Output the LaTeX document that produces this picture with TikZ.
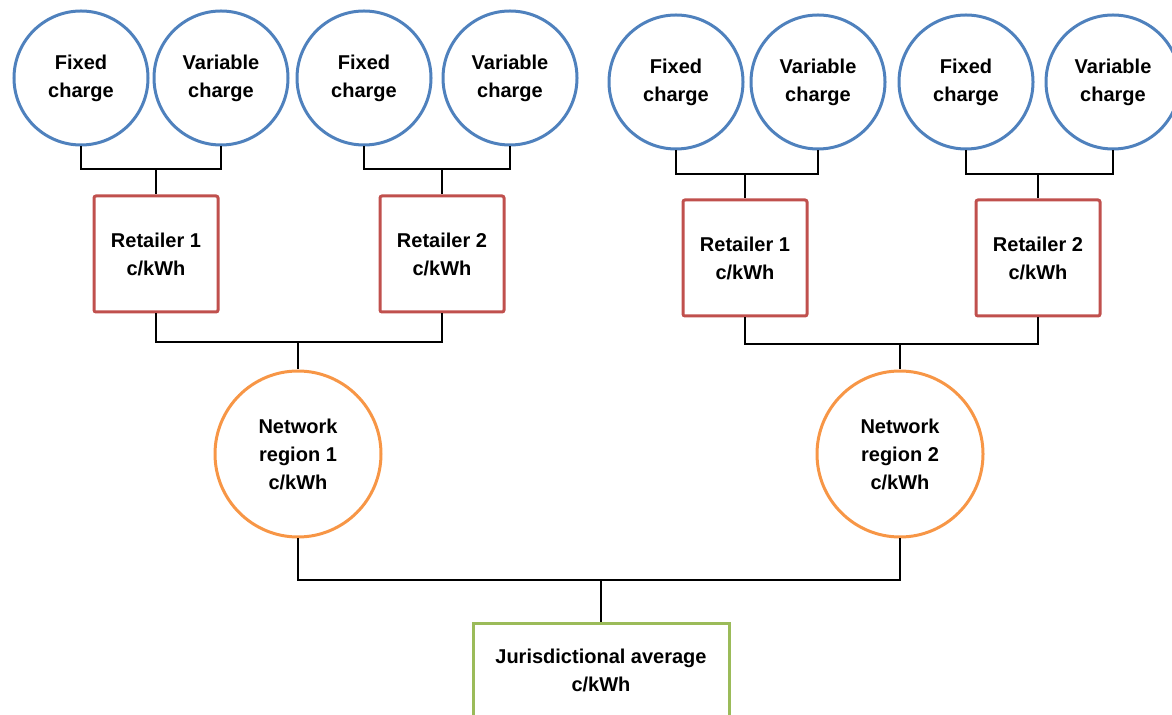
\documentclass[tikz,border=0pt]{standalone}
\usepackage{fontspec}
\setmainfont{Liberation Sans}
\usetikzlibrary{positioning}
\definecolor{chargeblue}{RGB}{79,129,189}
\definecolor{retailred}{RGB}{192,80,77}
\definecolor{netorange}{RGB}{247,150,70}
\definecolor{avggreen}{RGB}{155,187,89}
\tikzset{
    labeltext/.style={
        align=center,
        font=\fontsize{10}{14}\selectfont\bfseries
    },
    % blue circles for the two charge parts
    chargecircle/.style={
        labeltext,
        circle,
        draw=chargeblue,
        line width=1.5pt,
        minimum size=67pt,
        inner sep=0pt
    },
    retailbox/.style={
        labeltext,
        rectangle,
        rounded corners=1pt,
        draw=retailred,
        line width=1.5pt,
        minimum width=62pt,
        minimum height=58pt
    },
    netcircle/.style={
        labeltext,
        circle,
        draw=netorange,
        line width=1.5pt,
        minimum size=83pt,
        inner sep=0pt
    },
    avgbox/.style={
        labeltext,
        rectangle,
        draw=avggreen,
        line width=1.5pt,
        minimum width=128pt,
        minimum height=47pt
    },
    link/.style={
        line width=1pt,
        black
    }
}
\begin{document}
\begin{tikzpicture}[x=0.5pt,y=-0.5pt]
    \useasboundingbox (0,0) rectangle (1172,715);
    \clip (0,0) rectangle (1172,715);

    % charge circles
    \node[chargecircle] (fc1) at (81,78) {Fixed\\charge};
    \node[chargecircle] (vc1) at (221,78) {Variable\\charge};
    \node[chargecircle] (fc2) at (364,78) {Fixed\\charge};
    \node[chargecircle] (vc2) at (510,78) {Variable\\charge};
    \node[chargecircle] (fc3) at (676,82) {Fixed\\charge};
    \node[chargecircle] (vc3) at (818,82) {Variable\\charge};
    \node[chargecircle] (fc4) at (966,82) {Fixed\\charge};
    \node[chargecircle] (vc4) at (1113,82) {Variable\\charge};

    % retailers
    \node[retailbox] (ret1) at (156,254) {Retailer 1\\c/kWh};
    \node[retailbox] (ret2) at (442,254) {Retailer 2\\c/kWh};
    \node[retailbox] (ret3) at (745,258) {Retailer 1\\c/kWh};
    \node[retailbox] (ret4) at (1038,258) {Retailer 2\\c/kWh};

    % network regions and average
    \node[netcircle] (net1) at (298,454) {Network\\region 1\\c/kWh};
    \node[netcircle] (net2) at (900,454) {Network\\region 2\\c/kWh};
    \node[avgbox] (avg) at (601,670) {Jurisdictional average\\c/kWh};

    % bracket junctions
    \path
     (156,169) coordinate (j1)
     (442,169) coordinate (j2)
     (745,174) coordinate (j3)
     (1038,174) coordinate (j4)
     (298,342) coordinate (k1)
     (900,344) coordinate (k2)
     (601,580) coordinate (k3);

    \draw[link] (fc1.south) |- (j1) -| (vc1.south);
    \draw[link] (j1) -- (ret1.north);
    \draw[link] (fc2.south) |- (j2) -| (vc2.south);
    \draw[link] (j2) -- (ret2.north);
    \draw[link] (fc3.south) |- (j3) -| (vc3.south);
    \draw[link] (j3) -- (ret3.north);
    \draw[link] (fc4.south) |- (j4) -| (vc4.south);
    \draw[link] (j4) -- (ret4.north);

    \draw[link] (ret1.south) |- (k1) -| (ret2.south);
    \draw[link] (k1) -- (net1.north);
    \draw[link] (ret3.south) |- (k2) -| (ret4.south);
    \draw[link] (k2) -- (net2.north);

    \draw[link] (net1.south) |- (k3) -| (net2.south);
    \draw[link] (k3) -- (avg.north);
\end{tikzpicture}
\end{document}
